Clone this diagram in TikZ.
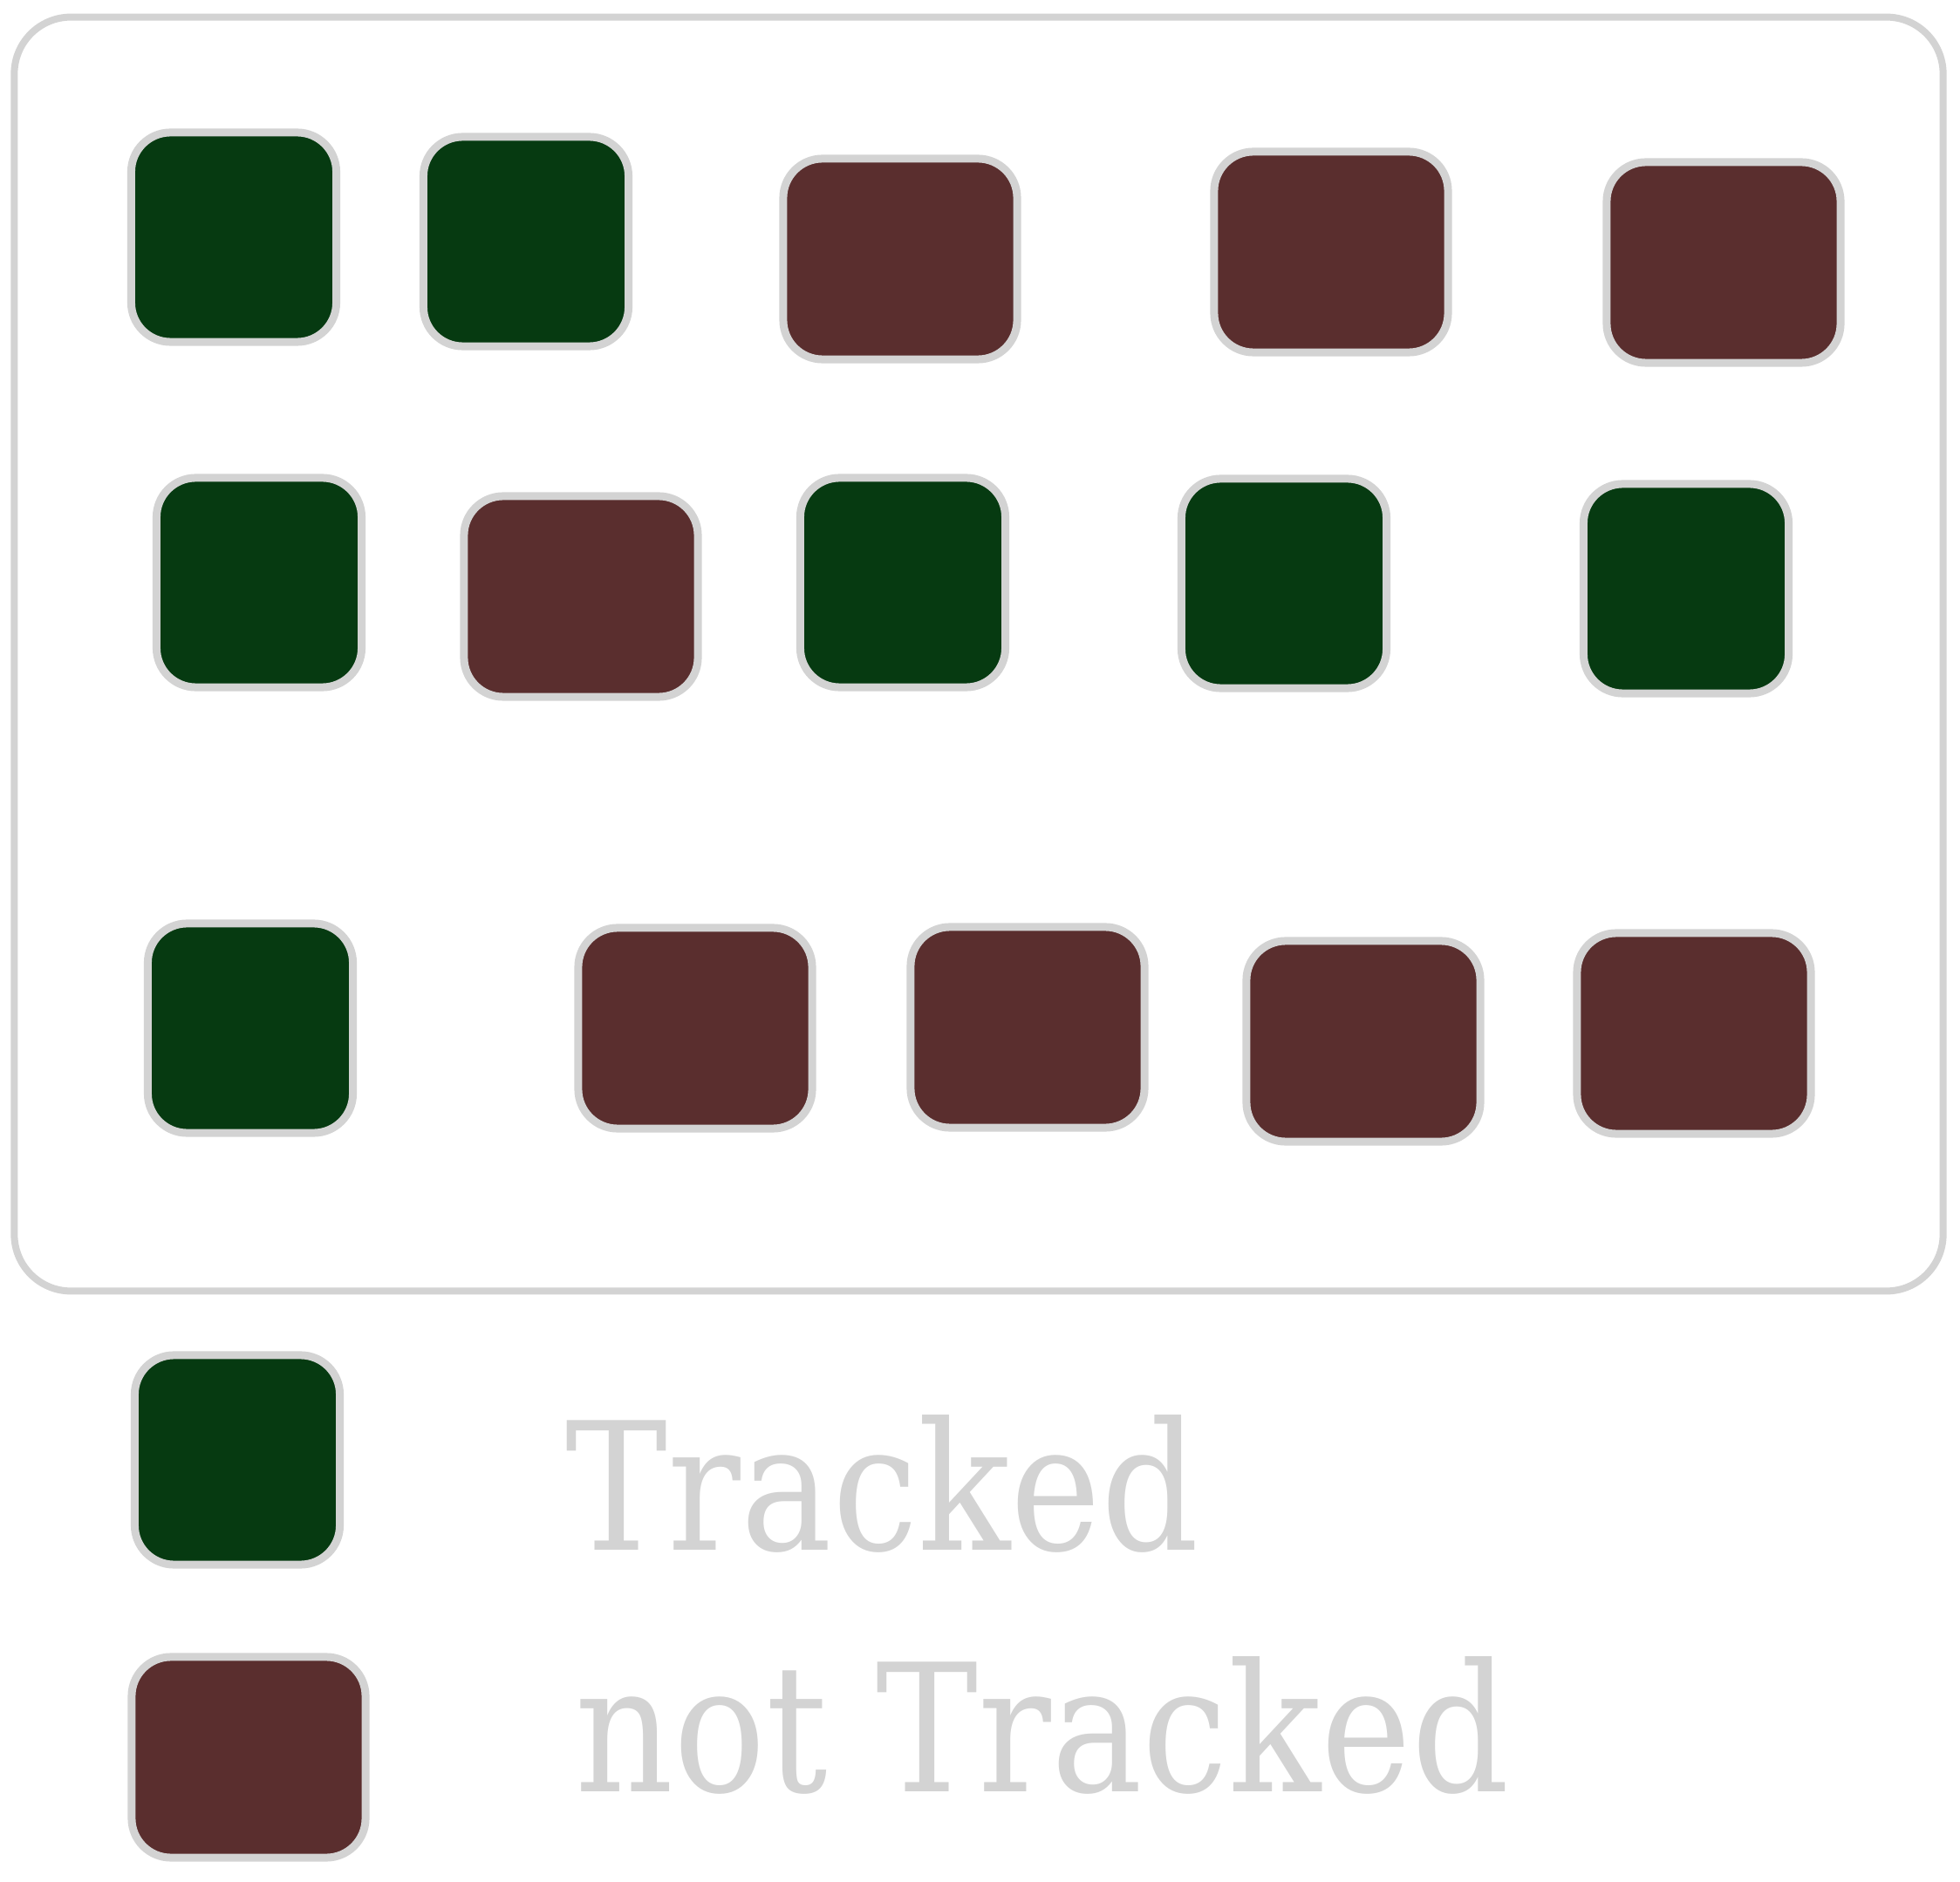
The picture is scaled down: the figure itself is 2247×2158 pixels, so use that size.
\documentclass[tikz,border=0pt]{standalone}
\usepackage{fontspec}
\usepackage{xcolor}
\usepackage{tikz}
\usetikzlibrary{positioning}
\newfontfamily\legendfont[FakeStretch=0.86]{DejaVu Serif}
\definecolor{trackgreen}{HTML}{063A11}
\definecolor{untrackbrown}{HTML}{5A2E2E}
\definecolor{edgegray}{HTML}{D3D3D3}

\begin{document}
\begin{tikzpicture}[
    x=0.01cm, y=-0.01cm,
    frame/.style={draw=edgegray, line width=0.08cm, rounded corners=0.65cm, minimum width=22.1cm, minimum height=14.6cm},
    tracked/.style={draw=edgegray, fill=trackgreen, line width=0.09cm, rounded corners=0.45cm, minimum width=2.35cm, minimum height=2.4cm},
    untracked/.style={draw=edgegray, fill=untrackbrown, line width=0.09cm, rounded corners=0.45cm, minimum width=2.68cm, minimum height=2.3cm},
    legendtext/.style={text=edgegray, font=\legendfont\fontsize{58}{70}\selectfont, anchor=base west, inner sep=0pt}
]
\useasboundingbox (0,0) rectangle (2247,2158);
\node[frame] (box) at (1122,750) {};
% first row
\node[tracked] (s11) at (268,272) {};
\node[tracked] (s12) at (603,277) {};
\node[untracked] (s13) at (1032,297) {};
\node[untracked] (s14) at (1526,289) {};
\node[untracked] (s15) at (1976,301) {};
% second row
\node[tracked] (s21) at (297,668) {};
\node[untracked] (s22) at (666,684) {};
\node[tracked] (s23) at (1035,668) {};
\node[tracked] (s24) at (1472,669) {};
\node[tracked] (s25) at (1933,675) {};
% third row
\node[tracked] (s31) at (287,1179) {};
\node[untracked] (s32) at (797,1179) {};
\node[untracked] (s33) at (1178,1178) {};
\node[untracked] (s34) at (1563,1194) {};
\node[untracked] (s35) at (1942,1185) {};
% legend
\node[tracked] (keyt) at (272,1674) {};
\node[untracked] (keyu) at (285,2015) {};
\node[legendtext] (labt) at (648,1777) {Tracked};
\node[legendtext] (labu) at (659,2054) {not Tracked};
\end{tikzpicture}
\end{document}
